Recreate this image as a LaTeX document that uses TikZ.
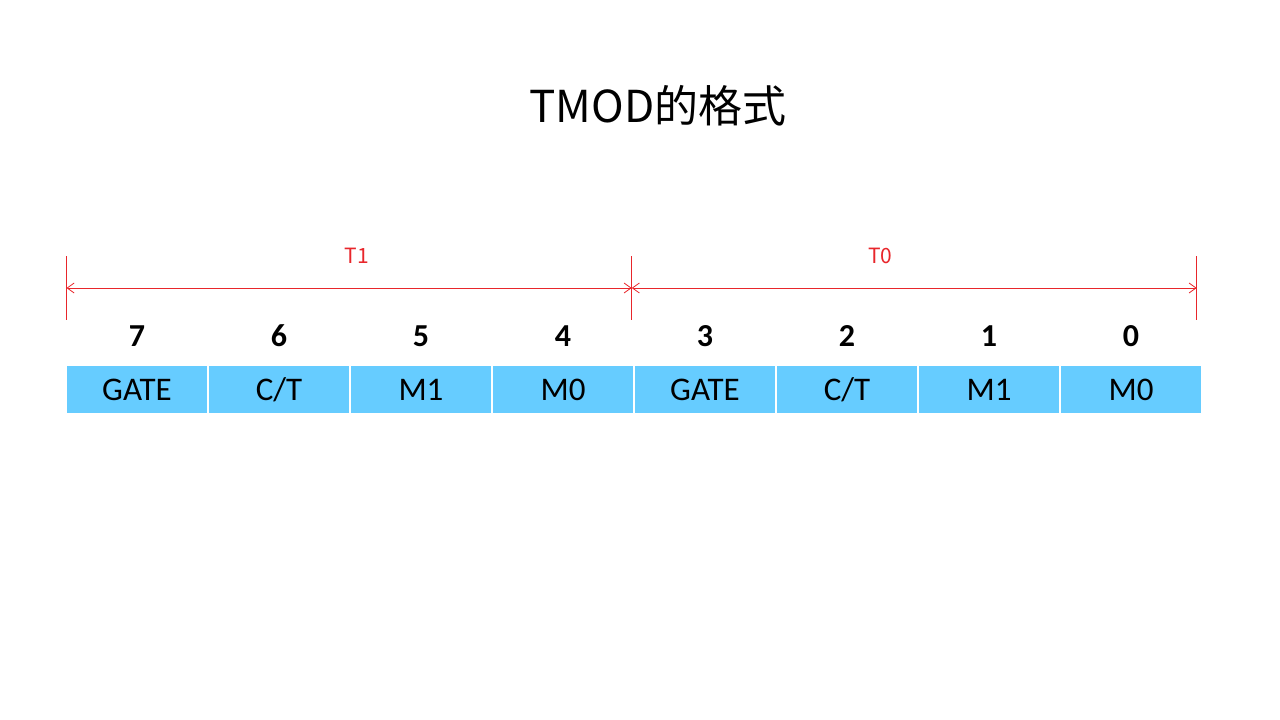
\documentclass[tikz,border=0pt]{standalone}
\usepackage{fontspec}
\setmainfont{Carlito}
\newfontfamily\cjkfont{Noto Sans CJK SC}
\usepackage{tikz}
\usetikzlibrary{positioning,arrows.meta}
\definecolor{cellblue}{HTML}{66CCFF}
\definecolor{spanred}{HTML}{E8262B}

\begin{document}
\begin{tikzpicture}[
  x=1pt,y=-1pt,
  bitcell/.style={draw=white,line width=1.2pt,fill=cellblue,outer sep=0pt,
    minimum width=142pt,minimum height=49pt,inner sep=0pt,
    font=\fontsize{33}{36}\selectfont},
  bitnum/.style={inner sep=0pt,font=\fontsize{32}{36}\selectfont\bfseries},
  span/.style={draw=spanred,line width=0.8pt,
    {Straight Barb[length=7pt,width=10pt]}-{Straight Barb[length=7pt,width=10pt]}},
  spanmark/.style={draw=spanred,line width=0.8pt},
  spanlabel/.style={text=spanred,inner sep=0pt,font=\cjkfont\fontsize{21}{24}\selectfont}
]
\useasboundingbox (0,0) rectangle (1280,720);

% Title
\node[font=\cjkfont\fontsize{44}{52}\selectfont] (title) at (658,106) {TMOD的格式};

% Register cells
\node[bitcell] (b7) at (137,389.5) {GATE};
\node[bitcell,right=0pt of b7] (b6) {C/T};
\node[bitcell,right=0pt of b6] (b5) {M1};
\node[bitcell,right=0pt of b5] (b4) {M0};
\node[bitcell,right=0pt of b4] (b3) {GATE};
\node[bitcell,right=0pt of b3] (b2) {C/T};
\node[bitcell,right=0pt of b2] (b1) {M1};
\node[bitcell,right=0pt of b1] (b0) {M0};

% Bit numbers
\node[bitnum,above=18pt of b7] (n7) {7};
\node[bitnum,above=18pt of b6] (n6) {6};
\node[bitnum,above=18pt of b5] (n5) {5};
\node[bitnum,above=18pt of b4] (n4) {4};
\node[bitnum,above=18pt of b3] (n3) {3};
\node[bitnum,above=18pt of b2] (n2) {2};
\node[bitnum,above=18pt of b1] (n1) {1};
\node[bitnum,above=18pt of b0] (n0) {0};

% T1 / T0 spans
\coordinate (sl) at (66.5,288);
\coordinate (sm) at (631.7,288);
\coordinate (sr) at (1196.7,288);
\draw[spanmark] (sl) ++(0,-32) -- ++(0,64);
\draw[spanmark] (sm) ++(0,-32) -- ++(0,64);
\draw[spanmark] (sr) ++(0,-32) -- ++(0,64);
\draw[span] (sl) -- node[spanlabel,pos=0.514,above=24pt] (t1) {T1} (sm);
\draw[span] (sm) -- node[spanlabel,pos=0.44,above=24pt] (t0) {T0} (sr);

\end{tikzpicture}
\end{document}
